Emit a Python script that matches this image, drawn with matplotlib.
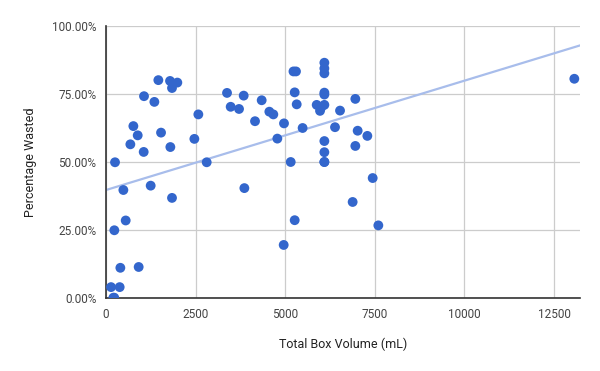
import numpy as np
import matplotlib
matplotlib.use('Agg')
import matplotlib.pyplot as plt
from matplotlib.ticker import FuncFormatter

plt.rcParams['font.family'] = ['Roboto', 'DejaVu Sans']

# box volume (mL) vs. share of the box that is wasted (%)
volume = [140, 205, 230, 381, 400, 911, 232, 251, 484, 549, 679, 763, 884, 1051,
          1060, 1246, 1349, 1460, 1535, 1786, 1841, 1990, 1795, 1841, 2465, 2576,
          2809, 3376, 3478, 3711, 3841, 3860, 4157, 4343, 4557, 4668, 4780, 4966,
          4957, 5153, 5230, 5300, 5264, 5320, 5264, 5485, 5878, 5971, 6000, 6092,
          6092, 6092, 6092, 6092, 6092, 6092, 6092, 6092, 6092, 6389, 6529, 6956,
          7021, 7291, 6956, 7440, 6881, 7598, 13066]
wasted = [4.0, 0.1, 0.1, 4.0, 11.1, 11.4, 24.9, 49.9, 39.7, 28.5, 56.5, 63.2, 59.8, 53.7,
          74.2, 41.3, 72.1, 80.1, 60.8, 79.8, 77.2, 79.2, 55.5, 36.8, 58.5, 67.5,
          49.9, 75.4, 70.3, 69.5, 74.4, 40.4, 65.0, 72.7, 68.5, 67.5, 58.6, 64.2,
          19.5, 50.0, 83.3, 83.3, 75.6, 71.2, 28.6, 62.5, 71.0, 68.8, 70.0, 86.5,
          84.4, 82.6, 75.5, 74.8, 71.0, 57.7, 53.6, 50.0, 50.0, 62.8, 68.9, 73.2,
          61.5, 59.6, 55.9, 44.1, 35.3, 26.7, 80.6]

# linear trendline as shown on the chart
trend_intercept = 39.7
trend_slope = 0.00402

x_max = 13225
x_ticks = [0, 2500, 5000, 7500, 10000, 12500]
y_ticks = [0, 25, 50, 75, 100]

fig = plt.figure(figsize=(6, 3.71), dpi=100)
ax = fig.add_axes([0.1767, 0.1968, 0.79, 0.7331])

ax.scatter(volume, wasted, s=50, color='#3366cc', edgecolors='none', zorder=3)

tx = np.array([0, x_max])
ax.plot(tx, trend_intercept + trend_slope * tx, color='#a8bdeb', lw=1.6, zorder=2)

ax.set_xlim(0, x_max)
ax.set_ylim(0, 100)
ax.set_xticks(x_ticks)
ax.set_yticks(y_ticks)
ax.yaxis.set_major_formatter(FuncFormatter(lambda v, p: '%.2f%%' % v))
ax.grid(True, color='#cccccc', lw=0.9, zorder=0)
ax.tick_params(length=0, labelsize=8.5, labelcolor='#444444', pad=7)
for side in ['top', 'right']:
    ax.spines[side].set_visible(False)
for side in ['left', 'bottom']:
    ax.spines[side].set_color('#333333')
    ax.spines[side].set_linewidth(1.2)

ax.set_xlabel('Total Box Volume (mL)', fontsize=9, color='#222222', labelpad=12)
ax.set_ylabel('Percentage Wasted', fontsize=9, color='#222222', labelpad=11)

fig.savefig('out.png', dpi=100)
